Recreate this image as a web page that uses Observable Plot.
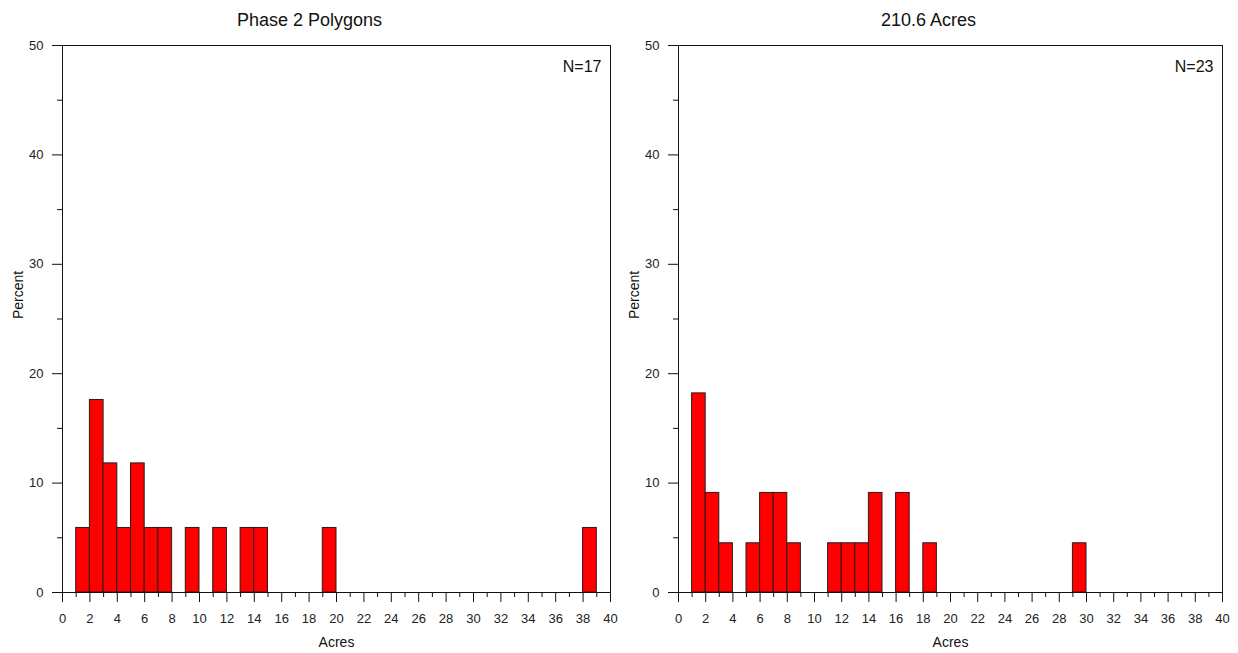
<!DOCTYPE html>
<html>
<head>
<meta charset="utf-8">
<script src="https://cdn.jsdelivr.net/npm/d3@7"></script>
<script src="https://cdn.jsdelivr.net/npm/@observablehq/plot@0.6"></script>
<style>
  html, body { margin: 0; padding: 0; background: #fff; }
  body { width: 1238px; height: 653px; position: relative; overflow: hidden; font-family: "Liberation Sans", Arial, sans-serif; }
  .panel { position: absolute; top: 0; width: 619px; height: 653px; }
  .title { position: absolute; top: 9px; left: 0; width: 619px; text-align: center; font-size: 18px; color: #111; line-height: 22px; }
  .chart { position: absolute; top: 30px; left: 0; }
  .chart svg { overflow: visible; }
</style>
</head>
<body>
<div class="panel" id="p1" style="left:0"><div class="title">Phase 2 Polygons</div><div class="chart"></div></div>
<div class="panel" id="p2" style="left:619px"><div class="title">210.6 Acres</div><div class="chart"></div></div>
<script>
// Left panel: bin starts (acres, bin width 1) and percent of polygons
const leftStarts = [1, 2, 3, 4, 5, 6, 7, 9, 11, 13, 14, 19, 38];
const leftPct    = [5.9, 17.6, 11.8, 5.9, 11.8, 5.9, 5.9, 5.9, 5.9, 5.9, 5.9, 5.9, 5.9];
const leftN = "N=17";

// Right panel
const rightStarts = [1, 2, 3, 5, 6, 7, 8, 11, 12, 13, 14, 16, 18, 29];
const rightPct    = [18.2, 9.1, 4.5, 4.5, 9.1, 9.1, 4.5, 4.5, 4.5, 4.5, 9.1, 9.1, 4.5, 4.5];
const rightN = "N=23";

const binWidth = 1;
const xMajorTicks = d3.range(0, 41, 2);
const xMinorTicks = d3.range(1, 40, 2);
const yMajorTicks = [0, 10, 20, 30, 40, 50];
const yMinorTicks = [5, 15, 25, 35, 45];

function histogram(starts, pct, nLabel, mLeft, mRight) {
  const data = starts.map((s, i) => ({x1: s, x2: s + binWidth, y: pct[i]}));
  return Plot.plot({
    width: 619,
    height: 623,
    marginLeft: mLeft,
    marginRight: mRight,
    marginTop: 15,
    marginBottom: 61,
    style: {fontFamily: "'Liberation Sans', Arial, sans-serif", fontSize: "13px", color: "#222", background: "white", overflow: "visible"},
    x: {domain: [0, 40]},
    y: {domain: [0, 50]},
    marks: [
      Plot.rectY(data, {x1: "x1", x2: "x2", y: "y", fill: "#ff0000", stroke: "#2a1a1a", strokeWidth: 1}),
      Plot.frame({stroke: "#111", strokeWidth: 1}),
      Plot.axisX({ticks: xMajorTicks, tickSize: 10, tickPadding: 11, tickFormat: d => d, label: null, stroke: "#111", fontSize: 13}),
      Plot.axisX({ticks: xMinorTicks, tickSize: 5, tickFormat: null, text: null, label: null, stroke: "#111"}),
      Plot.axisY({ticks: yMajorTicks, tickSize: 10, tickPadding: 9, tickFormat: d => d, label: null, stroke: "#111", fontSize: 13}),
      Plot.axisY({ticks: yMinorTicks, tickSize: 5, text: null, label: null, stroke: "#111"}),
      Plot.text(["Percent"], {frameAnchor: "left", rotate: -90, dx: -44, fontSize: 14, fill: "#111"}),
      Plot.text(["Acres"], {frameAnchor: "bottom", dy: 54, fontSize: 14, fill: "#111"}),
      Plot.text([nLabel], {frameAnchor: "top-right", dx: -9, dy: 21, lineAnchor: "middle", fontSize: 16, fill: "#111"})
    ]
  });
}

document.querySelector("#p1 .chart").appendChild(histogram(leftStarts, leftPct, leftN, 62, 9));
document.querySelector("#p2 .chart").appendChild(histogram(rightStarts, rightPct, rightN, 59, 16));
</script>
</body>
</html>
